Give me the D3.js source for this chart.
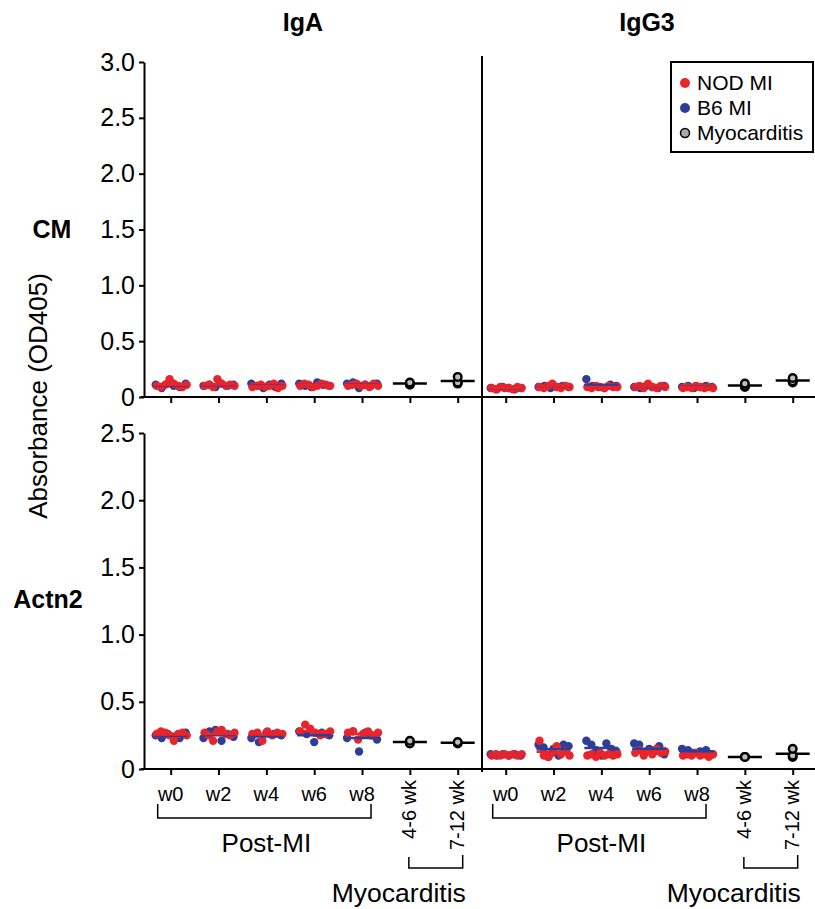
<!DOCTYPE html>
<html><head><meta charset="utf-8">
<script src="https://cdn.jsdelivr.net/npm/d3@7"></script>
<style>
body{margin:0;background:#fff;}
svg text{font-family:"Liberation Sans",Arial,sans-serif;fill:#000;}
</style></head>
<body><svg id="chart" width="815" height="909"></svg>
<script>
// ---------- DATA ----------
const groups = ["w0","w2","w4","w6","w8","4-6 wk","7-12 wk"];
const postMIGroups = ["w0","w2","w4","w6","w8"];
const myoGroups = ["4-6 wk","7-12 wk"];
const columnTitles = ["IgA","IgG3"];
const rowTitles = ["CM","Actn2"];
const topTicks = [0,0.5,1.0,1.5,2.0,2.5,3.0];
const bottomTicks = [0,0.5,1.0,1.5,2.0,2.5];
const legendLabels = ["NOD MI","B6 MI","Myocarditis"];

// IgA / CM
const igaCmNod = [[0.10,0.09,0.11,0.16,0.12,0.10,0.09,0.11],[0.10,0.11,0.09,0.16,0.12,0.10,0.11,0.10],[0.09,0.10,0.11,0.09,0.10,0.12,0.08,0.10],[0.10,0.12,0.11,0.09,0.10,0.12,0.11,0.10],[0.10,0.11,0.12,0.10,0.11,0.09,0.12,0.10]];
const igaCmB6  = [[0.11,0.08,0.12,0.10,0.09,0.12],[0.10,0.11,0.09,0.12,0.10,0.11],[0.12,0.10,0.08,0.11,0.09,0.12],[0.12,0.10,0.09,0.13,0.11,0.10],[0.12,0.13,0.08,0.11,0.10,0.12]];
const igaCmMyo = [[0.11,0.12,0.13],[0.12,0.13,0.18]];
// IgG3 / CM
const igg3CmNod = [[0.08,0.07,0.09,0.08,0.08,0.07,0.09,0.08],[0.09,0.08,0.10,0.12,0.09,0.08,0.10,0.09],[0.09,0.08,0.10,0.09,0.08,0.10,0.09,0.09],[0.09,0.10,0.08,0.12,0.09,0.08,0.10,0.09],[0.08,0.09,0.08,0.10,0.09,0.08,0.09,0.08]];
const igg3CmB6  = [[0.08,0.07,0.09,0.08,0.07,0.08],[0.09,0.10,0.08,0.09,0.10,0.09],[0.16,0.10,0.09,0.08,0.11,0.10],[0.09,0.08,0.10,0.09,0.08,0.10],[0.09,0.10,0.08,0.09,0.10,0.09]];
const igg3CmMyo = [[0.09,0.10,0.12],[0.13,0.14,0.17]];
// IgA / Actn2
const igaActnNod = [[0.26,0.28,0.27,0.25,0.21,0.26,0.27,0.25],[0.27,0.25,0.21,0.28,0.29,0.26,0.25,0.27],[0.26,0.27,0.21,0.28,0.25,0.27,0.26],[0.28,0.33,0.30,0.27,0.25,0.26,0.28],[0.27,0.28,0.22,0.26,0.28,0.25,0.27]];
const igaActnB6  = [[0.25,0.23,0.26,0.24,0.23,0.27],[0.23,0.28,0.29,0.21,0.26,0.24],[0.23,0.20,0.27,0.26,0.25],[0.28,0.26,0.20,0.27,0.25],[0.23,0.28,0.13,0.27,0.25,0.22]];
const igaActnMyo = [[0.19,0.21],[0.19,0.20]];
// IgG3 / Actn2
const igg3ActnNod = [[0.10,0.11,0.10,0.11,0.10,0.11,0.10,0.11],[0.21,0.10,0.09,0.12,0.17,0.11,0.13,0.10],[0.10,0.11,0.09,0.12,0.10,0.11,0.10,0.11],[0.12,0.14,0.10,0.13,0.11,0.15,0.12,0.13],[0.10,0.11,0.10,0.12,0.10,0.11,0.09,0.11]];
const igg3ActnB6  = [[0.11,0.10,0.11,0.10,0.11,0.10],[0.18,0.16,0.09,0.15,0.10,0.18,0.17],[0.21,0.18,0.14,0.10,0.19,0.15,0.13],[0.19,0.18,0.12,0.15,0.13,0.17,0.11],[0.15,0.14,0.12,0.13,0.14,0.11]];
const igg3ActnMyo = [[0.09,0.09],[0.09,0.10,0.15]];

// ---------- LAYOUT ----------
const RED = "#e8252b", BLUE = "#2e3d96";
const svg = d3.select("#chart");
const colX = [
  {axisStart:141, axisEnd:482, range:[170.7,457.7], title:303},
  {axisStart:482, axisEnd:815, range:[505.7,792.7], title:647}
];
const rowY = [
  {domain:[0,3], range:[397,62], ticks:topTicks},
  {domain:[0,2.5], range:[769,433], ticks:bottomTicks}
];
const panels = [
  {c:0,r:0,nod:igaCmNod,b6:igaCmB6,myo:igaCmMyo},
  {c:1,r:0,nod:igg3CmNod,b6:igg3CmB6,myo:igg3CmMyo},
  {c:0,r:1,nod:igaActnNod,b6:igaActnB6,myo:igaActnMyo},
  {c:1,r:1,nod:igg3ActnNod,b6:igg3ActnB6,myo:igg3ActnMyo}
];
const halfW = 17, spread = 15;

panels.forEach(p => {
  const cx = colX[p.c], ry = rowY[p.r];
  const x = d3.scalePoint().domain(groups).range(cx.range);
  const y = d3.scaleLinear().domain(ry.domain).range(ry.range);
  const g = svg.append("g");

  const xa = g.append("g").attr("transform",`translate(0,${y(0)})`)
    .call(d3.axisBottom(x).tickSize(6).tickFormat(""));
  xa.select(".domain").remove();
  xa.selectAll("line").attr("stroke","#000").attr("stroke-width",2);
  g.append("line").attr("x1",cx.axisStart).attr("x2",cx.axisEnd)
    .attr("y1",y(0)).attr("y2",y(0)).attr("stroke","#000").attr("stroke-width",2);

  if (p.c === 0) {
    const ya = g.append("g").attr("transform","translate(144,0)")
      .call(d3.axisLeft(y).tickValues(ry.ticks).tickSize(5).tickSizeOuter(0)
        .tickFormat(d => d === 0 ? "0" : d3.format(".1f")(d)));
    ya.select(".domain").attr("stroke","#000").attr("stroke-width",2);
    ya.selectAll("line").attr("stroke","#000").attr("stroke-width",2);
    ya.selectAll("text").attr("font-size",25).attr("x",-9).attr("fill","#000")
      .style("font-family","'Liberation Sans',Arial,sans-serif");
  }

  postMIGroups.forEach((grp, gi) => {
    const cxp = x(grp);
    const b = p.b6[gi], n = p.nod[gi];
    b.forEach((v,i) => {
      const off = b.length > 1 ? (i/(b.length-1) - 0.5)*2*spread : 0;
      g.append("circle").attr("cx",cxp+off).attr("cy",y(v)).attr("r",4.2).attr("fill",BLUE);
    });
    n.forEach((v,i) => {
      const off = n.length > 1 ? (i/(n.length-1) - 0.5)*2*spread : 0;
      g.append("circle").attr("cx",cxp+off+1).attr("cy",y(v)).attr("r",4.2).attr("fill",RED);
    });
    g.append("line").attr("x1",cxp-halfW).attr("x2",cxp+halfW)
      .attr("y1",y(d3.mean(b))).attr("y2",y(d3.mean(b))).attr("stroke",BLUE).attr("stroke-width",2.5);
    g.append("line").attr("x1",cxp-halfW).attr("x2",cxp+halfW)
      .attr("y1",y(d3.mean(n))).attr("y2",y(d3.mean(n))).attr("stroke",RED).attr("stroke-width",2.5);
  });

  myoGroups.forEach((grp, gi) => {
    const cxp = x(grp);
    const m = p.myo[gi];
    g.append("line").attr("x1",cxp-halfW).attr("x2",cxp+halfW)
      .attr("y1",y(d3.mean(m))).attr("y2",y(d3.mean(m))).attr("stroke","#000").attr("stroke-width",2.5);
    m.forEach(v => {
      g.append("circle").attr("cx",cxp).attr("cy",y(v)).attr("r",3.8)
        .attr("fill","#bdbdbd").attr("stroke","#000").attr("stroke-width",2.4);
    });
  });

  if (p.r === 1) {
    postMIGroups.forEach(grp => {
      g.append("text").attr("x",x(grp)).attr("y",801).attr("text-anchor","middle")
        .attr("font-size",20).text(grp);
    });
    myoGroups.forEach(grp => {
      g.append("text").attr("transform",`translate(${x(grp)+6},780) rotate(-90)`)
        .attr("text-anchor","end").attr("font-size",20).text(grp);
    });
    const x0 = x("w0")-13, x1 = x("w8")+9;
    g.append("path").attr("d",`M${x0},804V818H${x1}V804`).attr("fill","none")
      .attr("stroke","#000").attr("stroke-width",1.5);
    g.append("text").attr("x",(x("w0")+x("w8"))/2).attr("y",852).attr("text-anchor","middle")
      .attr("font-size",26).text("Post-MI");
    const m0 = x("4-6 wk")-1, m1 = x("7-12 wk")+5;
    g.append("path").attr("d",`M${m0},857V868H${m1}V855`).attr("fill","none")
      .attr("stroke","#000").attr("stroke-width",1.5);
    g.append("text").attr("x",(x("4-6 wk")+x("7-12 wk"))/2-35).attr("y",902).attr("text-anchor","middle")
      .attr("font-size",26.5).text("Myocarditis");
  }
});

svg.append("line").attr("x1",482).attr("x2",482).attr("y1",56).attr("y2",772)
  .attr("stroke","#000").attr("stroke-width",2);

columnTitles.forEach((t,i) => {
  svg.append("text").attr("x",colX[i].title).attr("y",31).attr("text-anchor","middle")
    .attr("font-size",25).attr("font-weight","bold").text(t);
});
svg.append("text").attr("x",52).attr("y",238).attr("text-anchor","middle")
  .attr("font-size",25).attr("font-weight","bold").text(rowTitles[0]);
svg.append("text").attr("x",48).attr("y",608).attr("text-anchor","middle")
  .attr("font-size",25).attr("font-weight","bold").text(rowTitles[1]);
svg.append("text").attr("transform","translate(47,396) rotate(-90)").attr("text-anchor","middle")
  .attr("font-size",26).text("Absorbance (OD405)");

const lg = svg.append("g");
lg.append("rect").attr("x",671).attr("y",62).attr("width",142).attr("height",90)
  .attr("fill","#fff").attr("stroke","#000").attr("stroke-width",2);
const legColors = [RED, BLUE, "#aaa"];
legendLabels.forEach((l,i) => {
  const yy = 83 + i*25;
  lg.append("circle").attr("cx",685).attr("cy",yy).attr("r",i===2?4.5:5)
    .attr("fill",legColors[i]).attr("stroke",i===2?"#000":"none").attr("stroke-width",1.5);
  lg.append("text").attr("x",697).attr("y",yy+7).attr("font-size",21).text(l);
});
</script></body></html>
